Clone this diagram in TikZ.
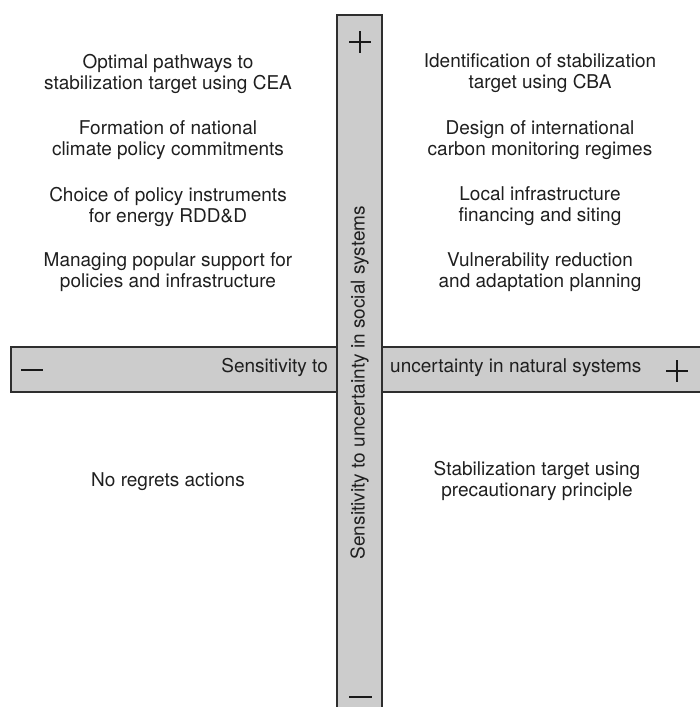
\documentclass[tikz,border=0pt]{standalone}
\usepackage{fontspec}
\setmainfont{TeX Gyre Heros}
\begin{document}
\begin{tikzpicture}[x=1pt,y=1pt,
  bar/.style={draw=black!82,line width=2pt,fill=black!20},
  pm/.style={draw=black!90,line width=2.6pt},
  lbl/.style={align=center,text=black!88,inner sep=0pt,font=\fontsize{19}{21}\selectfont},
  axis/.style={text=black!88,inner sep=0pt,font=\fontsize{19}{21}\selectfont}]
\useasboundingbox (0,0) rectangle (699,707);
% horizontal bar
\draw[bar] (11,315) rectangle (710,360);
% vertical bar
\draw[bar] (337,692) rectangle (382,-10);
% signs
\draw[pm] (349,665) -- (371,665) (360,654) -- (360,676);
\draw[pm] (349,10) -- (372,10);
\draw[pm] (21,337) -- (43,337);
\draw[pm] (666,336) -- (688,336) (677,325) -- (677,347);
% axis labels
\node[axis,anchor=mid east] (hl) at (328,337) {Sensitivity to};
\node[axis,anchor=mid west] (hr) at (390,337) {uncertainty in natural systems};
\node[axis,rotate=90] (vl) at (359.5,324.5) {Sensitivity to uncertainty in social systems};
% left column
\node[lbl] (l1) at (168,633.5) {Optimal pathways to\\stabilization target using CEA};
\node[lbl] (l2) at (168,566.5) {Formation of national\\climate policy commitments};
\node[lbl] (l3) at (168,500.5) {Choice of policy instruments\\for energy RDD\&D};
\node[lbl] (l4) at (168,434.5) {Managing popular support for\\policies and infrastructure};
% right column
\node[lbl] (r1) at (540,633.5) {Identification of stabilization\\target using CBA};
\node[lbl] (r2) at (540,566.5) {Design of international\\carbon monitoring regimes};
\node[lbl] (r3) at (540,500.5) {Local infrastructure\\financing and siting};
\node[lbl] (r4) at (540,434.5) {Vulnerability reduction\\and adaptation planning};
% bottom
\node[lbl] (bl) at (168,225) {No regrets actions};
\node[lbl] (br) at (537,226.5) {Stabilization target using\\precautionary principle};
\end{tikzpicture}
\end{document}
